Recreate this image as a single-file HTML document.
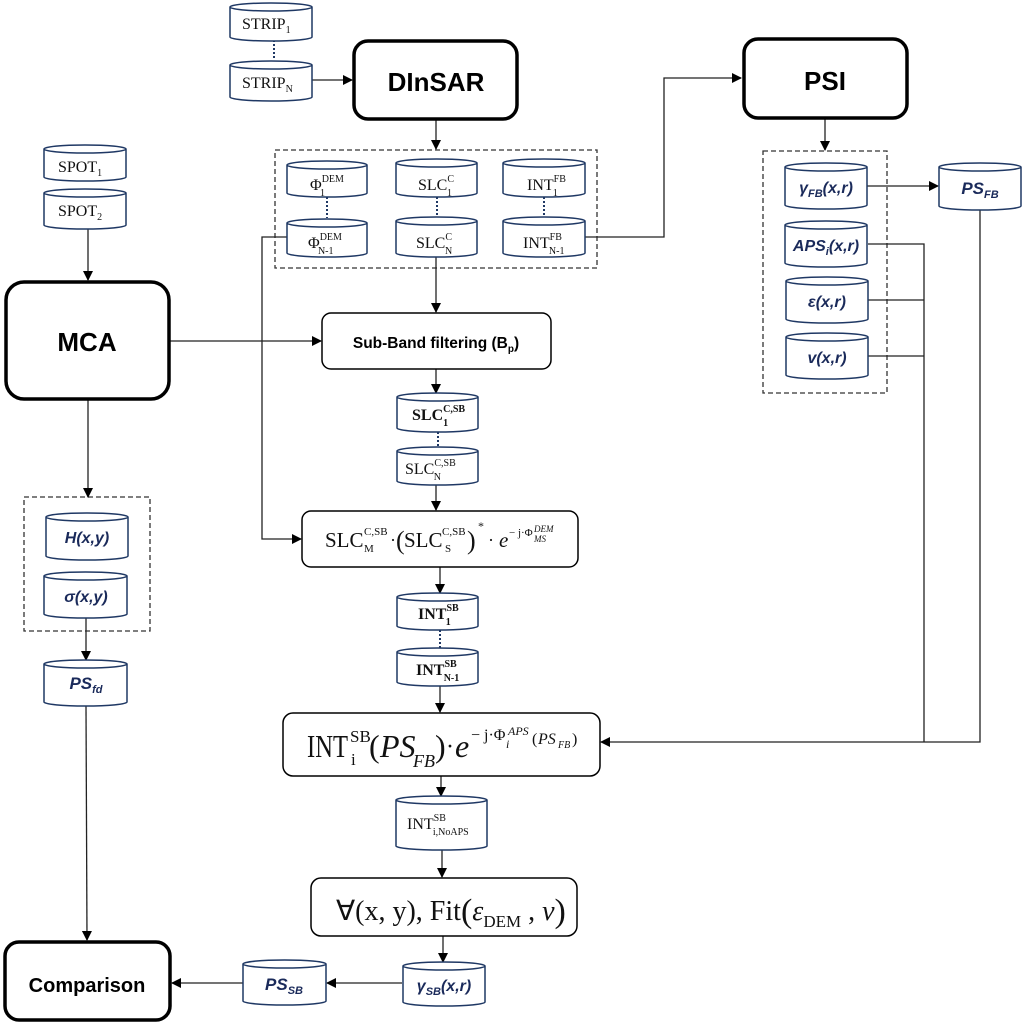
<!DOCTYPE html>
<html><head><meta charset="utf-8"><style>
html,body{margin:0;padding:0;background:#fff}
svg{display:block}
.c{fill:#fff;stroke:#1f3864;stroke-width:1.5}
.t{font-family:"Liberation Serif",serif;fill:#111}
.a{font-family:"Liberation Sans",sans-serif;font-weight:bold;fill:#000}
.n{font-family:"Liberation Sans",sans-serif;font-weight:bold;font-style:italic;fill:#1a2a5a}
.l{stroke:#222;stroke-width:1.3;fill:none}
.d{stroke:#333;stroke-width:1.3;fill:none;stroke-dasharray:5,3}
.dot{stroke:#1f3864;stroke-width:2;stroke-dasharray:2,2}
.b{fill:#fff;stroke:#000;stroke-width:1.5}
.B{fill:#fff;stroke:#000;stroke-width:3.5}
</style></head><body>
<svg width="1024" height="1023" viewBox="0 0 1024 1023" xmlns="http://www.w3.org/2000/svg">
<defs><marker id="ar" markerWidth="10" markerHeight="10" refX="9" refY="5" orient="auto" markerUnits="userSpaceOnUse"><path d="M0,0 L10,5 L0,10 z" fill="#000"/></marker></defs>

<rect class="d" x="275" y="150" width="322" height="118"/>
<rect class="d" x="763" y="151" width="124" height="242"/>
<rect class="d" x="24" y="497" width="126" height="134"/>

<line class="l" x1="312" y1="80" x2="352" y2="80" marker-end="url(#ar)"/>
<line class="l" x1="436" y1="120" x2="436" y2="149" marker-end="url(#ar)"/>
<polyline class="l" points="585,237 664,237 664,78 741,78" marker-end="url(#ar)"/>
<line class="l" x1="825" y1="119" x2="825" y2="150" marker-end="url(#ar)"/>
<line class="l" x1="867" y1="186" x2="938" y2="186" marker-end="url(#ar)"/>
<polyline class="l" points="868,244 924,244 924,742"/>
<line class="l" x1="868" y1="300" x2="924" y2="300"/>
<line class="l" x1="868" y1="356" x2="924" y2="356"/>
<polyline class="l" points="980,210 980,742 601,742" marker-end="url(#ar)"/>
<line class="l" x1="88" y1="228" x2="88" y2="280" marker-end="url(#ar)"/>
<line class="l" x1="170" y1="341" x2="321" y2="341" marker-end="url(#ar)"/>
<line class="l" x1="436" y1="257" x2="436" y2="312" marker-end="url(#ar)"/>
<line class="l" x1="436" y1="369" x2="436" y2="393" marker-end="url(#ar)"/>
<line class="l" x1="436" y1="485" x2="436" y2="510" marker-end="url(#ar)"/>
<polyline class="l" points="287,237 262,237 262,539 301,539" marker-end="url(#ar)"/>
<line class="l" x1="440" y1="567" x2="440" y2="593" marker-end="url(#ar)"/>
<line class="l" x1="440" y1="686" x2="440" y2="712" marker-end="url(#ar)"/>
<line class="l" x1="441" y1="776" x2="441" y2="796" marker-end="url(#ar)"/>
<line class="l" x1="442" y1="850" x2="442" y2="877" marker-end="url(#ar)"/>
<line class="l" x1="443" y1="936" x2="443" y2="962" marker-end="url(#ar)"/>
<line class="l" x1="402" y1="983" x2="327" y2="983" marker-end="url(#ar)"/>
<line class="l" x1="243" y1="983" x2="172" y2="983" marker-end="url(#ar)"/>
<line class="l" x1="88" y1="400" x2="88" y2="497" marker-end="url(#ar)"/>
<line class="l" x1="86" y1="618" x2="86" y2="660" marker-end="url(#ar)"/>
<line class="l" x1="86" y1="706" x2="87" y2="940" marker-end="url(#ar)"/>

<line class="dot" x1="274" y1="40" x2="274" y2="60"/>
<line class="dot" x1="327" y1="197" x2="327" y2="218"/>
<line class="dot" x1="437" y1="197" x2="437" y2="218"/>
<line class="dot" x1="544" y1="197" x2="544" y2="218"/>
<line class="dot" x1="438" y1="432" x2="438" y2="447"/>
<line class="dot" x1="440" y1="630" x2="440" y2="648"/>

<g class="c">
<path d="M230,7 V37 A41,4 0 0 0 312,37 V7 A41,4 0 0 1 230,7 A41,4 0 0 1 312,7"/>
<path d="M230,65 V97 A41,4 0 0 0 312,97 V65 A41,4 0 0 1 230,65 A41,4 0 0 1 312,65"/>
<path d="M287,165 V193 A40,4 0 0 0 367,193 V165 A40,4 0 0 1 287,165 A40,4 0 0 1 367,165"/>
<path d="M287,223 V253 A40,4 0 0 0 367,253 V223 A40,4 0 0 1 287,223 A40,4 0 0 1 367,223"/>
<path d="M396,163 V193 A40.5,4 0 0 0 477,193 V163 A40.5,4 0 0 1 396,163 A40.5,4 0 0 1 477,163"/>
<path d="M396,221 V253 A40.5,4 0 0 0 477,253 V221 A40.5,4 0 0 1 396,221 A40.5,4 0 0 1 477,221"/>
<path d="M503,163 V193 A41,4 0 0 0 585,193 V163 A41,4 0 0 1 503,163 A41,4 0 0 1 585,163"/>
<path d="M503,221 V253 A41,4 0 0 0 585,253 V221 A41,4 0 0 1 503,221 A41,4 0 0 1 585,221"/>
<path d="M785,167 V205 A41,4 0 0 0 867,205 V167 A41,4 0 0 1 785,167 A41,4 0 0 1 867,167"/>
<path d="M785,225 V263 A41,4 0 0 0 867,263 V225 A41,4 0 0 1 785,225 A41,4 0 0 1 867,225"/>
<path d="M786,281 V319 A41,4 0 0 0 868,319 V281 A41,4 0 0 1 786,281 A41,4 0 0 1 868,281"/>
<path d="M786,337 V375 A41,4 0 0 0 868,375 V337 A41,4 0 0 1 786,337 A41,4 0 0 1 868,337"/>
<path d="M939,167 V206 A41,4 0 0 0 1021,206 V167 A41,4 0 0 1 939,167 A41,4 0 0 1 1021,167"/>
<path d="M44,149 V177 A41,4 0 0 0 126,177 V149 A41,4 0 0 1 44,149 A41,4 0 0 1 126,149"/>
<path d="M44,193 V225 A41,4 0 0 0 126,225 V193 A41,4 0 0 1 44,193 A41,4 0 0 1 126,193"/>
<path d="M397,397 V428 A40.5,4 0 0 0 478,428 V397 A40.5,4 0 0 1 397,397 A40.5,4 0 0 1 478,397"/>
<path d="M397,451 V481 A40.5,4 0 0 0 478,481 V451 A40.5,4 0 0 1 397,451 A40.5,4 0 0 1 478,451"/>
<path d="M397,597 V626 A40.5,4 0 0 0 478,626 V597 A40.5,4 0 0 1 397,597 A40.5,4 0 0 1 478,597"/>
<path d="M397,652 V682 A40.5,4 0 0 0 478,682 V652 A40.5,4 0 0 1 397,652 A40.5,4 0 0 1 478,652"/>
<path d="M396,800 V846 A45.5,4 0 0 0 487,846 V800 A45.5,4 0 0 1 396,800 A45.5,4 0 0 1 487,800"/>
<path d="M403,966 V1002 A41,4 0 0 0 485,1002 V966 A41,4 0 0 1 403,966 A41,4 0 0 1 485,966"/>
<path d="M243,964 V1001 A41.5,4 0 0 0 326,1001 V964 A41.5,4 0 0 1 243,964 A41.5,4 0 0 1 326,964"/>
<path d="M46,517 V556 A41,4 0 0 0 128,556 V517 A41,4 0 0 1 46,517 A41,4 0 0 1 128,517"/>
<path d="M44,576 V614 A41.5,4 0 0 0 127,614 V576 A41.5,4 0 0 1 44,576 A41.5,4 0 0 1 127,576"/>
<path d="M44,664 V702 A41.5,4 0 0 0 127,702 V664 A41.5,4 0 0 1 44,664 A41.5,4 0 0 1 127,664"/>
</g>

<rect class="B" x="354" y="41" width="163" height="78" rx="14"/>
<rect class="B" x="744" y="39" width="163" height="79" rx="14"/>
<rect class="B" x="6" y="282" width="163" height="117" rx="18"/>
<rect class="B" x="5" y="942" width="165" height="78" rx="14"/>
<rect class="b" x="322" y="313" width="229" height="56" rx="9"/>
<rect class="b" x="302" y="511" width="276" height="56" rx="9"/>
<rect class="b" x="283" y="713" width="317" height="63" rx="10"/>
<rect class="b" x="311" y="878" width="266" height="58" rx="10"/>

<text class="a" x="436" y="91" font-size="26" text-anchor="middle">DInSAR</text>
<text class="a" x="825" y="90" font-size="26" text-anchor="middle">PSI</text>
<text class="a" x="87" y="351" font-size="26" text-anchor="middle">MCA</text>
<text class="a" x="87" y="992" font-size="20" text-anchor="middle">Comparison</text>
<text class="a" x="436" y="348" font-size="15.5" text-anchor="middle">Sub-Band filtering (B<tspan font-size="10" dy="4">p</tspan><tspan dy="-4">)</tspan></text>

<g class="t" font-size="16">
<text x="242" y="29">STRIP<tspan font-size="10" dy="4">1</tspan></text>
<text x="242" y="88">STRIP<tspan font-size="10" dy="4">N</tspan></text>
<text x="58" y="172">SPOT<tspan font-size="10" dy="4">1</tspan></text>
<text x="58" y="216">SPOT<tspan font-size="10" dy="4">2</tspan></text>
<text x="310" y="190">Φ<tspan font-size="10" dy="-8">DEM</tspan><tspan font-size="10" dx="-24" dy="14">1</tspan></text>
<text x="308" y="248">Φ<tspan font-size="10" dy="-8">DEM</tspan><tspan font-size="10" dx="-24" dy="14">N-1</tspan></text>
<text x="418" y="190">SLC<tspan font-size="10" dy="-8">C</tspan><tspan font-size="10" dx="-7" dy="14">1</tspan></text>
<text x="416" y="248">SLC<tspan font-size="10" dy="-8">C</tspan><tspan font-size="10" dx="-7" dy="14">N</tspan></text>
<text x="527" y="190">INT<tspan font-size="10" dy="-8">FB</tspan><tspan font-size="10" dx="-13" dy="14">1</tspan></text>
<text x="523" y="248">INT<tspan font-size="10" dy="-8">FB</tspan><tspan font-size="10" dx="-13" dy="14">N-1</tspan></text>
<text x="412" y="420" font-weight="bold">SLC<tspan font-size="10" dy="-8">C,SB</tspan><tspan font-size="10" dx="-22" dy="14">1</tspan></text>
<text x="405" y="474">SLC<tspan font-size="10" dy="-8">C,SB</tspan><tspan font-size="10" dx="-22" dy="14">N</tspan></text>
<text x="418" y="619" font-weight="bold">INT<tspan font-size="10" dy="-8">SB</tspan><tspan font-size="10" dx="-13" dy="14">1</tspan></text>
<text x="416" y="675" font-weight="bold">INT<tspan font-size="10" dy="-8">SB</tspan><tspan font-size="10" dx="-13" dy="14">N-1</tspan></text>
<text x="407" y="829">INT<tspan font-size="10" dy="-8">SB</tspan><tspan font-size="10" dx="-13" dy="14">i,NoAPS</tspan></text>
</g>

<!-- formula 1 -->
<g class="t">
<text x="325" y="547" font-size="21">SLC</text>
<text x="364" y="535" font-size="11">C,SB</text>
<text x="364" y="552" font-size="11">M</text>
<text x="390" y="546" font-size="18">·</text>
<text x="396" y="549" font-size="26">(</text>
<text x="404" y="547" font-size="21">SLC</text>
<text x="442" y="535" font-size="11">C,SB</text>
<text x="445" y="552" font-size="11">S</text>
<text x="467" y="549" font-size="26">)</text>
<text x="478" y="530" font-size="12">*</text>
<text x="488" y="546" font-size="18">·</text>
<text x="499" y="547" font-size="21" font-style="italic">e</text>
<text x="509" y="536" font-size="11">− j·Φ</text>
<text x="534" y="532" font-size="9" font-style="italic">DEM</text>
<text x="534" y="542" font-size="9" font-style="italic">MS</text>
</g>
<!-- formula 2 -->
<g class="t">
<text x="307" y="757" font-size="32" textLength="41" lengthAdjust="spacingAndGlyphs">INT</text>
<text x="350" y="742" font-size="17">SB</text>
<text x="351" y="765" font-size="17">i</text>
<text x="369" y="757" font-size="32">(</text>
<text x="380" y="757" font-size="32" font-style="italic">PS</text>
<text x="413" y="767" font-size="18" font-style="italic">FB</text>
<text x="435" y="757" font-size="32">)</text>
<text x="446" y="754" font-size="24">·</text>
<text x="455" y="757" font-size="32" font-style="italic">e</text>
<text x="471" y="740" font-size="16">− j·Φ</text>
<text x="508" y="735" font-size="12" font-style="italic">APS</text>
<text x="506" y="748" font-size="12" font-style="italic">i</text>
<text x="532" y="744" font-size="16">(</text>
<text x="538" y="744" font-size="16" font-style="italic">PS</text>
<text x="558" y="748" font-size="10" font-style="italic">FB</text>
<text x="572" y="744" font-size="16">)</text>
</g>
<!-- formula 3 -->
<text class="t" x="336" y="920" font-size="28">∀(x, y), Fit<tspan font-size="34" dy="2">(</tspan><tspan font-style="italic" dy="-2">ε</tspan><tspan font-size="17" dy="7">DEM</tspan><tspan dy="-7"> , </tspan><tspan font-style="italic">v</tspan><tspan font-size="34" dy="2">)</tspan></text>

<g class="n" font-size="16" text-anchor="middle">
<text x="826" y="193">γ<tspan font-size="11" dy="4">FB</tspan><tspan dy="-4">(x,r)</tspan></text>
<text x="826" y="251">APS<tspan font-size="11" dy="4">i</tspan><tspan dy="-4">(x,r)</tspan></text>
<text x="827" y="307">ε(x,r)</text>
<text x="827" y="363">v(x,r)</text>
<text x="980" y="194" font-size="17">PS<tspan font-size="11" dy="4">FB</tspan></text>
<text x="87" y="543">H(x,y)</text>
<text x="86" y="602">σ(x,y)</text>
<text x="86" y="689" font-size="17">PS<tspan font-size="11" dy="4">fd</tspan></text>
<text x="284" y="990" font-size="17">PS<tspan font-size="11" dy="4">SB</tspan></text>
<text x="444" y="991">γ<tspan font-size="11" dy="4">SB</tspan><tspan dy="-4">(x,r)</tspan></text>
</g>
</svg>
</body></html>
